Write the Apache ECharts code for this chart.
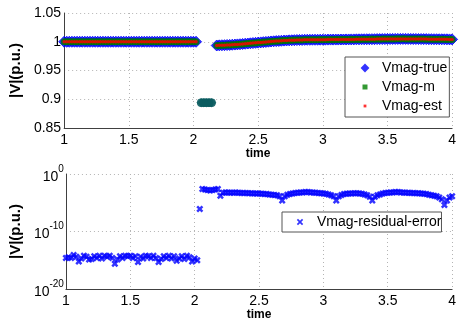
<!DOCTYPE html>
<html><head><meta charset="utf-8">
<script src="https://cdn.jsdelivr.net/npm/echarts@6/dist/echarts.min.js"></script>
<style>html,body{margin:0;padding:0;background:#fff}#c{width:459px;height:324px}</style>
</head><body><div id="c"></div>
<script>
var time = [
1.00,1.02,1.04,1.06,1.08,1.10,1.12,1.14,1.16,1.18,
1.20,1.22,1.24,1.26,1.28,1.30,1.32,1.34,1.36,1.38,
1.40,1.42,1.44,1.46,1.48,1.50,1.52,1.54,1.56,1.58,
1.60,1.62,1.64,1.66,1.68,1.70,1.72,1.74,1.76,1.78,
1.80,1.82,1.84,1.86,1.88,1.90,1.92,1.94,1.96,1.98,
2.00,2.02,2.04,2.06,2.08,2.10,2.12,2.14,2.16,2.18,
2.20,2.22,2.24,2.26,2.28,2.30,2.32,2.34,2.36,2.38,
2.40,2.42,2.44,2.46,2.48,2.50,2.52,2.54,2.56,2.58,
2.60,2.62,2.64,2.66,2.68,2.70,2.72,2.74,2.76,2.78,
2.80,2.82,2.84,2.86,2.88,2.90,2.92,2.94,2.96,2.98,
3.00,3.02,3.04,3.06,3.08,3.10,3.12,3.14,3.16,3.18,
3.20,3.22,3.24,3.26,3.28,3.30,3.32,3.34,3.36,3.38,
3.40,3.42,3.44,3.46,3.48,3.50,3.52,3.54,3.56,3.58,
3.60,3.62,3.64,3.66,3.68,3.70,3.72,3.74,3.76,3.78,
3.80,3.82,3.84,3.86,3.88,3.90,3.92,3.94,3.96,3.98,
4.00];

var vmagTrue = [
1.0,1.0,1.0,1.0,1.0,1.0,1.0,1.0,1.0,1.0,
1.0,1.0,1.0,1.0,1.0,1.0,1.0,1.0,1.0,1.0,
1.0,1.0,1.0,1.0,1.0,1.0,1.0,1.0,1.0,1.0,
1.0,1.0,1.0,1.0,1.0,1.0,1.0,1.0,1.0,1.0,
1.0,1.0,1.0,1.0,1.0,1.0,1.0,1.0,1.0,1.0,
1.0,1.0,null,0.894,0.894,0.894,0.894,0.894,null,0.9935,
0.9937,0.9939,0.9941,0.9943,0.9945,0.9948,0.9951,0.9954,0.9957,0.9961,
0.9965,0.9969,0.9973,0.9977,0.9981,0.9985,0.9989,0.9993,0.9997,1.0001,
1.0005,1.0008,1.0011,1.0014,1.0017,1.0020,1.0022,1.0024,1.0026,1.0028,
1.0030,1.0031,1.0032,1.0033,1.0034,1.0034,1.0035,1.0035,1.0035,1.0036,
1.0036,1.0036,1.0037,1.0037,1.0037,1.0038,1.0038,1.0039,1.0039,1.0040,
1.0040,1.0041,1.0041,1.0042,1.0042,1.0043,1.0043,1.0044,1.0044,1.0045,
1.0045,1.0046,1.0046,1.0047,1.0047,1.0048,1.0048,1.0049,1.0049,1.0050,
1.0050,1.0050,1.0050,1.0049,1.0049,1.0048,1.0048,1.0047,1.0047,1.0046,
1.0046,1.0045,1.0045,1.0044,1.0044,1.0043,1.0043,1.0042,1.0042,1.0041,
1.0041];

var vmagM = [
1.0001,0.9999,1.0,1.0002,0.9998,1.0,1.0001,0.9999,1.0,1.0001,
0.9999,1.0,1.0002,0.9999,1.0,1.0001,0.9998,1.0,1.0001,0.9999,
1.0,1.0002,0.9999,1.0,1.0001,0.9999,1.0,1.0001,0.9998,1.0,
1.0001,0.9999,1.0,1.0002,0.9999,1.0,1.0001,0.9999,1.0,1.0001,
0.9998,1.0,1.0001,0.9999,1.0,1.0002,0.9999,1.0,1.0001,0.9999,
1.0,1.0001,null,0.894,0.894,0.894,0.894,0.894,null,0.9936,
0.9936,0.9940,0.9940,0.9944,0.9944,0.9949,0.9950,0.9955,0.9956,0.9962,
0.9964,0.9970,0.9972,0.9978,0.9980,0.9986,0.9988,0.9994,0.9996,1.0002,
1.0004,1.0009,1.0010,1.0015,1.0016,1.0021,1.0021,1.0025,1.0025,1.0029,
1.0029,1.0032,1.0031,1.0034,1.0033,1.0035,1.0034,1.0036,1.0034,1.0037,
1.0035,1.0037,1.0036,1.0038,1.0036,1.0039,1.0037,1.0040,1.0038,1.0041,
1.0039,1.0042,1.0040,1.0043,1.0041,1.0044,1.0042,1.0045,1.0043,1.0046,
1.0044,1.0047,1.0045,1.0048,1.0046,1.0049,1.0047,1.0050,1.0048,1.0051,
1.0049,1.0051,1.0049,1.0050,1.0048,1.0049,1.0047,1.0048,1.0046,1.0047,
1.0045,1.0046,1.0044,1.0045,1.0043,1.0044,1.0042,1.0043,1.0041,1.0042,
1.0040];

var vmagEst = [
1.0,1.0,1.0,1.0,1.0,1.0,1.0,1.0,1.0,1.0,
1.0,1.0,1.0,1.0,1.0,1.0,1.0,1.0,1.0,1.0,
1.0,1.0,1.0,1.0,1.0,1.0,1.0,1.0,1.0,1.0,
1.0,1.0,1.0,1.0,1.0,1.0,1.0,1.0,1.0,1.0,
1.0,1.0,1.0,1.0,1.0,1.0,1.0,1.0,1.0,1.0,
1.0,1.0,null,null,null,null,null,null,null,0.9935,
0.9937,0.9939,0.9941,0.9943,0.9945,0.9948,0.9951,0.9954,0.9957,0.9961,
0.9965,0.9969,0.9973,0.9977,0.9981,0.9985,0.9989,0.9993,0.9997,1.0001,
1.0005,1.0008,1.0011,1.0014,1.0017,1.0020,1.0022,1.0024,1.0026,1.0028,
1.0030,1.0031,1.0032,1.0033,1.0034,1.0034,1.0035,1.0035,1.0035,1.0036,
1.0036,1.0036,1.0037,1.0037,1.0037,1.0038,1.0038,1.0039,1.0039,1.0040,
1.0040,1.0041,1.0041,1.0042,1.0042,1.0043,1.0043,1.0044,1.0044,1.0045,
1.0045,1.0046,1.0046,1.0047,1.0047,1.0048,1.0048,1.0049,1.0049,1.0050,
1.0050,1.0050,1.0050,1.0049,1.0049,1.0048,1.0048,1.0047,1.0047,1.0046,
1.0046,1.0045,1.0045,1.0044,1.0044,1.0043,1.0043,1.0042,1.0042,1.0041,
1.0041];

var residual = [
2.5e-15,3.2e-15,2.5e-15,7.9e-15,4e-15,6.3e-16,2e-15,6.3e-15,4e-15,1.3e-15,
1.6e-15,5e-15,2.5e-15,6.3e-15,2e-15,6.3e-15,4e-15,6.3e-15,2.5e-15,2.5e-16,
1.3e-15,5e-15,2.5e-15,6.3e-15,5e-15,6.3e-15,2.5e-15,5e-15,5e-16,4e-15,
2e-15,6.3e-15,5e-15,2.5e-15,6.3e-15,2.5e-15,5e-16,1.6e-15,5e-15,2.5e-15,
6.3e-15,2e-15,5e-15,7.9e-16,2e-15,5e-15,1.6e-15,6.3e-15,3.2e-15,6.3e-16,
2e-15,1e-15,7.9e-7,2.5e-3,2e-3,1.6e-3,1.3e-3,1.6e-3,2e-3,2.5e-3,
1.6e-4,5.6e-4,6.3e-4,6.3e-4,5.6e-4,5.6e-4,6.3e-4,5.6e-4,5e-4,5e-4,
5e-4,4.5e-4,4.5e-4,4e-4,4e-4,4e-4,3.5e-4,3.2e-4,3.2e-4,2.8e-4,
2.5e-4,2.2e-4,2e-4,1.4e-4,2.5e-5,1.3e-4,2.5e-4,3.2e-4,4e-4,5e-4,
5.6e-4,6.3e-4,6.3e-4,7.1e-4,7.1e-4,6.3e-4,6.3e-4,5.6e-4,5e-4,4.5e-4,
4e-4,3.5e-4,2.8e-4,2e-4,1.3e-4,2.5e-5,1.3e-4,2.2e-4,3.2e-4,3.5e-4,
4e-4,4e-4,4.5e-4,4.5e-4,4e-4,3.5e-4,2.8e-4,2e-4,1.1e-4,2.5e-5,
1.1e-4,2e-4,2.8e-4,4e-4,5e-4,5.6e-4,6.3e-4,6.3e-4,7.1e-4,7.1e-4,
6.3e-4,6.3e-4,5.6e-4,5.6e-4,5e-4,5e-4,4.5e-4,4.5e-4,4e-4,3.5e-4,
3.2e-4,2.5e-4,2e-4,1.6e-4,1.3e-4,7.9e-5,4e-5,4e-6,2.5e-5,7.9e-5,
1.3e-4];

var xTicks = {min: 1, max: 4, interval: 0.5};
var topTicks = {min: 0.85, max: 1.05, interval: 0.05};
var bottomTicks = {min: 1e-20, max: 1, interval: 10};

var FONT = 'Liberation Sans, Arial, sans-serif';
var TEAL = '#0b5c60';

function pairs(vals, tealWhenEstMissing) {
  var out = [];
  for (var i = 0; i < time.length; i++) {
    if (vals[i] == null) continue;
    var item = {value: [time[i], vals[i]]};
    if (tealWhenEstMissing && vmagEst[i] == null) {
      item.itemStyle = {color: TEAL, borderColor: TEAL};
      item.symbolSize = 8;
    }
    out.push(item);
  }
  return out;
}

function pad(p) { return 'path://M0,0 M14,14 ' + p; }
var ICON_DIAMOND = pad('M7,2.6 L11.4,7 L7,11.4 L2.6,7 Z');
var ICON_GREEN = pad('M4.5,4.5 L9.5,4.5 L9.5,9.5 L4.5,9.5 Z');
var ICON_RED = pad('M5.6,5.6 L8.4,5.6 L8.4,8.4 L5.6,8.4 Z');
var ICON_X = pad('M3.8,5 L5,3.8 L7,5.8 L9,3.8 L10.2,5 L8.2,7 L10.2,9 L9,10.2 L7,8.2 L5,10.2 L3.8,9 L5.8,7 Z');
var XMARK = 'path://M0,2.5 L2.5,0 L5,2.5 L7.5,0 L10,2.5 L7.5,5 L10,7.5 L7.5,10 L5,7.5 L2.5,10 L0,7.5 L2.5,5 Z';

var splitLine = {show: true, lineStyle: {color: '#b4b4b4', type: [1, 3], width: 1}};
var axisLine = {show: true, lineStyle: {color: '#404040', width: 1}};

function xAxis(grid) {
  return {
    type: 'value', gridIndex: grid, min: xTicks.min, max: xTicks.max, interval: xTicks.interval,
    name: 'time', nameLocation: 'middle', nameGap: 19,
    nameTextStyle: {fontFamily: FONT, fontWeight: 'bold', fontSize: 12, color: '#000'},
    axisLine: axisLine, axisTick: {show: false},
    axisLabel: {fontFamily: FONT, fontSize: 14, color: '#000', margin: 5},
    splitLine: splitLine
  };
}

var chart = echarts.init(document.getElementById('c'), null, {renderer: 'canvas'});
chart.setOption({
  animation: false,
  backgroundColor: '#fff',
  grid: [
    {left: 59, right: 5, top: 13, height: 115},
    {left: 59, right: 5, top: 174, height: 115}
  ],
  xAxis: [xAxis(0), xAxis(1)],
  yAxis: [
    {
      type: 'value', gridIndex: 0, min: topTicks.min, max: topTicks.max, interval: topTicks.interval,
      name: '|V|(p.u.)', nameLocation: 'middle', nameGap: 40,
      nameTextStyle: {fontFamily: FONT, fontWeight: 'bold', fontSize: 15, color: '#000'},
      axisLine: axisLine, axisTick: {show: false},
      axisLabel: {fontFamily: FONT, fontSize: 14, color: '#000', margin: 3},
      splitLine: splitLine
    },
    {
      type: 'log', logBase: 10, gridIndex: 1, min: bottomTicks.min, max: bottomTicks.max,
      interval: bottomTicks.interval, splitNumber: 2,
      name: '|V|(p.u.)', nameLocation: 'middle', nameGap: 40,
      nameTextStyle: {fontFamily: FONT, fontWeight: 'bold', fontSize: 15, color: '#000'},
      axisLine: axisLine, axisTick: {show: false},
      axisLabel: {
        margin: 2, color: '#000',
        formatter: function (v) {
          var e = Math.round(Math.log(v) / Math.LN10);
          return '{b|10}{s|' + e + '}';
        },
        rich: {
          b: {fontFamily: FONT, fontSize: 14, color: '#000', padding: [6, 0, 0, 0]},
          s: {fontFamily: FONT, fontSize: 10, color: '#000', verticalAlign: 'top', padding: [0, 0, 0, 0]}
        }
      },
      splitLine: splitLine
    }
  ],
  legend: [
    {
      orient: 'vertical', left: 345, top: 57, selectedMode: false,
      itemWidth: 14, itemHeight: 14, itemGap: 5,
      padding: [4, 2, 4, 13],
      borderColor: '#555', borderWidth: 1, backgroundColor: '#fff',
      textStyle: {fontFamily: FONT, fontSize: 14, color: '#000', padding: [0, 0, 0, 5]},
      data: [
        {name: 'Vmag-true', icon: ICON_DIAMOND, itemStyle: {color: '#0000ff', borderWidth: 0}},
        {name: 'Vmag-m', icon: ICON_GREEN, itemStyle: {color: '#008000'}},
        {name: 'Vmag-est', icon: ICON_RED, itemStyle: {color: '#ff0000'}}
      ]
    },
    {
      orient: 'vertical', left: 282, top: 212, selectedMode: false,
      itemWidth: 14, itemHeight: 14,
      padding: [3, 0, 3, 11],
      width: 167,
      borderColor: '#555', borderWidth: 1, backgroundColor: '#fff',
      textStyle: {fontFamily: FONT, fontSize: 14, color: '#000', padding: [0, 0, 0, 5]},
      data: [{name: 'Vmag-residual-error', icon: ICON_X, itemStyle: {color: '#0000ff'}}]
    }
  ],
  series: [
    {
      name: 'Vmag-true', type: 'scatter', xAxisIndex: 0, yAxisIndex: 0,
      symbol: 'diamond', symbolSize: 11,
      itemStyle: {color: '#0000ff', borderColor: '#0000ff', borderWidth: 1},
      data: pairs(vmagTrue, true), z: 2
    },
    {
      name: 'Vmag-m', type: 'scatter', xAxisIndex: 0, yAxisIndex: 0,
      symbol: 'circle', symbolSize: 7, itemStyle: {color: '#007a00'},
      data: pairs(vmagM, true), z: 3
    },
    {
      name: 'Vmag-est', type: 'scatter', xAxisIndex: 0, yAxisIndex: 0,
      symbol: 'circle', symbolSize: 3.5, itemStyle: {color: '#ff0000'},
      data: pairs(vmagEst, false), z: 4
    },
    {
      name: 'Vmag-residual-error', type: 'scatter', xAxisIndex: 1, yAxisIndex: 1,
      symbol: XMARK, symbolSize: 7, itemStyle: {color: '#0000ff'},
      data: pairs(residual, false), z: 3
    }
  ]
});
</script>
</body></html>
